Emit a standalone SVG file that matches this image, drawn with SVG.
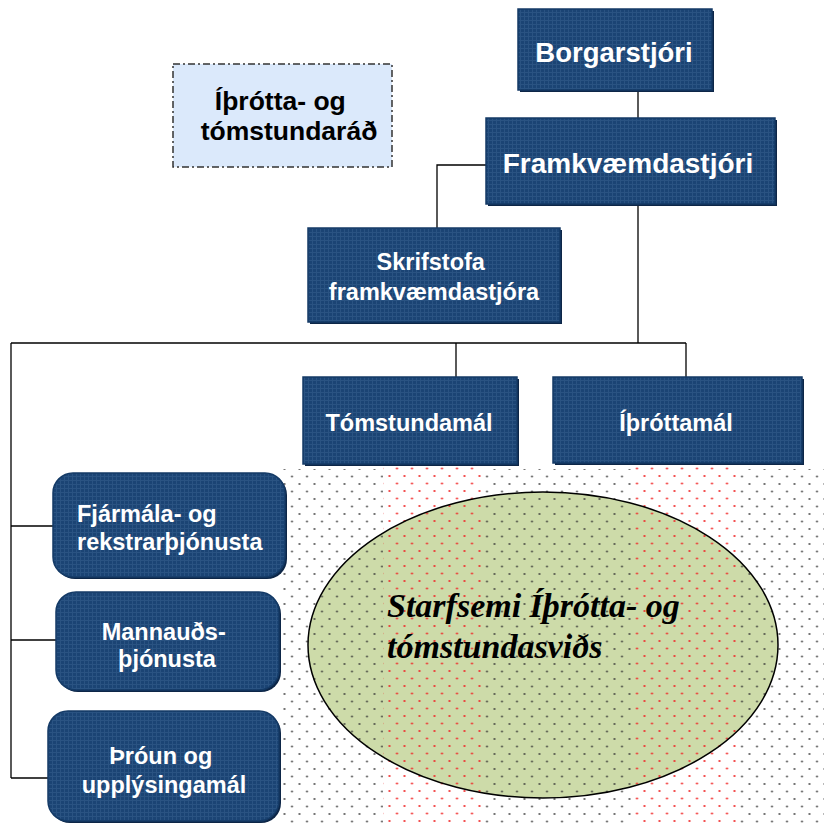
<svg xmlns="http://www.w3.org/2000/svg" width="824" height="824" viewBox="0 0 824 824">
<defs>
  <pattern id="grid" width="4" height="4" patternUnits="userSpaceOnUse">
    <rect width="4" height="4" fill="#1b4474"/>
    <path d="M0 0.5H4M0.5 0V4" stroke="#3a628f" stroke-width="1" opacity="0.5"/>
  </pattern>
  <pattern id="blackdots" width="15" height="15" patternUnits="userSpaceOnUse" x="-0.5" y="469">
    <circle cx="7.5" cy="7.5" r="0.9" fill="#333"/>
    <circle cx="0" cy="0" r="0.9" fill="#333"/>
    <circle cx="15" cy="0" r="0.9" fill="#333"/>
    <circle cx="0" cy="15" r="0.9" fill="#333"/>
    <circle cx="15" cy="15" r="0.9" fill="#333"/>
  </pattern>
  <pattern id="reddots" width="15" height="15" patternUnits="userSpaceOnUse" x="-0.5" y="461">
    <circle cx="7.5" cy="7.5" r="1.1" fill="#f02828"/>
    <circle cx="0" cy="0" r="1.1" fill="#f02828"/>
    <circle cx="15" cy="0" r="1.1" fill="#f02828"/>
    <circle cx="0" cy="15" r="1.1" fill="#f02828"/>
    <circle cx="15" cy="15" r="1.1" fill="#f02828"/>
  </pattern>
  <style>
    .box{fill:url(#grid);stroke:#143a66;stroke-width:1.5}
    .shadow{fill:#0d2647}
    .wt{font-family:"Liberation Sans",Arial,sans-serif;font-weight:bold;fill:#ffffff;text-anchor:middle}
    .conn{stroke:#000;stroke-width:1.3;fill:none}
  </style>
</defs>
<rect width="824" height="824" fill="#ffffff"/>

<!-- background activity area -->
<g id="activity">
  <ellipse cx="543" cy="645" rx="235" ry="153" fill="#cddba9"/>
  <rect x="282" y="469" width="101" height="355" fill="url(#blackdots)"/>
  <rect x="485" y="469" width="150" height="355" fill="url(#blackdots)"/>
  <rect x="740" y="469" width="84" height="355" fill="url(#blackdots)"/>
  <rect x="383" y="463" width="102" height="361" fill="url(#reddots)"/>
  <rect x="635" y="463" width="105" height="361" fill="url(#reddots)"/>
  <ellipse cx="543" cy="645" rx="235" ry="153" fill="none" stroke="#000" stroke-width="1.5"/>
  <text font-family="'Liberation Serif','Times New Roman',serif" font-weight="bold" font-style="italic" font-size="34" fill="#000">
    <tspan x="387" y="617">Starfsemi Íþrótta- og</tspan>
    <tspan x="387" y="658">tómstundasviðs</tspan>
  </text>
</g>

<!-- connectors -->
<g id="connectors" class="conn">
  <path d="M638 90V118"/>
  <path d="M486 165H437V228"/>
  <path d="M638 204V343"/>
  <path d="M11 343H686"/>
  <path d="M456 343V377"/>
  <path d="M686 343V377"/>
  <path d="M11 343V778"/>
  <path d="M11 526H53"/>
  <path d="M11 640H56"/>
  <path d="M11 778H48"/>
</g>

<g id="rad">
  <rect x="173" y="64" width="219" height="103" fill="#dbe9fb" stroke="#333" stroke-width="1.5" stroke-dasharray="7,3,2,3"/>
  <text font-family="'Liberation Sans',Arial,sans-serif" font-weight="bold" font-size="26.5" fill="#000" text-anchor="middle">
    <tspan x="284" y="110">Íþrótta- og</tspan>
    <tspan x="289" y="140">tómstundaráð</tspan>
  </text>
</g>

<g id="borgarstjori">
  <rect class="shadow" x="520" y="11" width="194" height="81"/>
  <rect class="box" x="518" y="9" width="194" height="81"/>
  <text class="wt" x="614" y="62" font-size="27.5">Borgarstjóri</text>
</g>

<g id="framkvaemdastjori">
  <rect class="shadow" x="488" y="120" width="289" height="86"/>
  <rect class="box" x="486" y="118" width="289" height="86"/>
  <text class="wt" x="628" y="173" font-size="28">Framkvæmdastjóri</text>
</g>

<g id="skrifstofa">
  <rect class="shadow" x="310" y="230" width="252" height="94"/>
  <rect class="box" x="308" y="228" width="252" height="94"/>
  <text class="wt" font-size="23.5">
    <tspan x="434" y="270">Skrifstofa</tspan>
    <tspan x="434" y="300">framkvæmdastjóra</tspan>
  </text>
</g>

<g id="tomstundamal">
  <rect class="shadow" x="305" y="379" width="214" height="87"/>
  <rect class="box" x="303" y="377" width="214" height="87"/>
  <text class="wt" x="409" y="431" font-size="23.5">Tómstundamál</text>
</g>

<g id="ithrottamal">
  <rect class="shadow" x="555" y="379" width="249" height="86"/>
  <rect class="box" x="553" y="377" width="249" height="86"/>
  <text class="wt" x="676" y="431" font-size="23.5">Íþróttamál</text>
</g>

<g id="fjarmala">
  <rect class="shadow" x="55" y="475" width="232" height="104" rx="20"/>
  <rect class="box" x="53" y="473" width="232" height="104" rx="20"/>
  <text class="wt" font-size="23.5" style="text-anchor:start">
    <tspan x="77" y="522">Fjármála- og</tspan>
    <tspan x="77" y="550">rekstrarþjónusta</tspan>
  </text>
</g>

<g id="mannauds">
  <rect class="shadow" x="58" y="594" width="223" height="98" rx="20"/>
  <rect class="box" x="56" y="592" width="223" height="98" rx="20"/>
  <text class="wt" font-size="23.5">
    <tspan x="167" y="640">Mannauðs-</tspan>
    <tspan x="167" y="667">þjónusta</tspan>
  </text>
</g>

<g id="throun">
  <rect class="shadow" x="50" y="713" width="231" height="110" rx="20"/>
  <rect class="box" x="48" y="711" width="231" height="110" rx="20"/>
  <text class="wt" font-size="23.5">
    <tspan x="164" y="764">Þróun og</tspan>
    <tspan x="164" y="793">upplýsingamál</tspan>
  </text>
</g>
</svg>
